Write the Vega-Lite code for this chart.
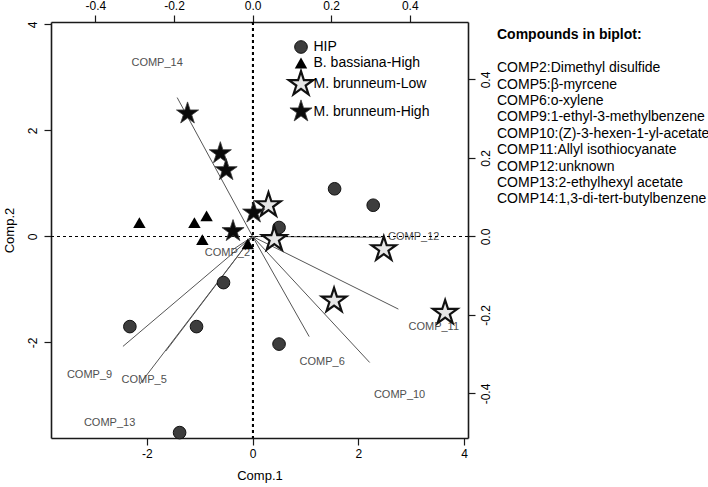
{
  "$schema": "https://vega.github.io/schema/vega-lite/v6.json",
  "width": 417,
  "height": 416,
  "autosize": {"type": "none"},
  "padding": {"left": 51, "top": 22, "right": 240, "bottom": 49},
  "background": "white",
  "config": {
    "font": "Liberation Sans",
    "view": {"stroke": null},
    "axis": {
      "grid": false,
      "domainColor": "#1a1a1a",
      "domainWidth": 1.6,
      "tickColor": "#1a1a1a",
      "tickWidth": 1.2,
      "tickSize": 7,
      "labelFontSize": 12,
      "labelColor": "#000000",
      "labelFont": "Liberation Sans",
      "titleFont": "Liberation Sans",
      "titleFontSize": 13,
      "titleFontWeight": "normal",
      "titleColor": "#000000"
    }
  },
  "datasets": {
    "scores": [
      {"group": "HIP", "comp1": 0.50, "comp2": 0.17},
      {"group": "HIP", "comp1": 1.55, "comp2": 0.90},
      {"group": "HIP", "comp1": 2.28, "comp2": 0.59},
      {"group": "HIP", "comp1": -0.55, "comp2": -0.87},
      {"group": "HIP", "comp1": -2.32, "comp2": -1.70},
      {"group": "HIP", "comp1": -1.06, "comp2": -1.70},
      {"group": "HIP", "comp1": -1.38, "comp2": -3.70},
      {"group": "HIP", "comp1": 0.50, "comp2": -2.03},
      {"group": "B. bassiana-High", "comp1": -2.14, "comp2": 0.26},
      {"group": "B. bassiana-High", "comp1": -1.10, "comp2": 0.26},
      {"group": "B. bassiana-High", "comp1": -0.87, "comp2": 0.39},
      {"group": "B. bassiana-High", "comp1": -0.95, "comp2": -0.06},
      {"group": "B. bassiana-High", "comp1": -0.09, "comp2": -0.14},
      {"group": "M. brunneum-Low", "comp1": 0.30, "comp2": 0.59},
      {"group": "M. brunneum-Low", "comp1": 0.41, "comp2": -0.05},
      {"group": "M. brunneum-Low", "comp1": 2.48, "comp2": -0.24},
      {"group": "M. brunneum-Low", "comp1": 1.54, "comp2": -1.21},
      {"group": "M. brunneum-Low", "comp1": 3.64, "comp2": -1.44},
      {"group": "M. brunneum-High", "comp1": -1.23, "comp2": 2.32},
      {"group": "M. brunneum-High", "comp1": -0.61, "comp2": 1.57},
      {"group": "M. brunneum-High", "comp1": -0.50, "comp2": 1.25},
      {"group": "M. brunneum-High", "comp1": 0.02, "comp2": 0.45},
      {"group": "M. brunneum-High", "comp1": -0.37, "comp2": 0.10}
    ],
    "loadings": [
      {"compound": "COMP_2", "desc": "COMP2:Dimethyl disulfide", "load1": -0.064, "load2": -0.043, "arrow1": -0.051, "arrow2": -0.034},
      {"compound": "COMP_5", "desc": "COMP5:β-myrcene", "load1": -0.276, "load2": -0.365, "arrow1": -0.221, "arrow2": -0.292},
      {"compound": "COMP_6", "desc": "COMP6:o-xylene", "load1": 0.177, "load2": -0.321, "arrow1": 0.144, "arrow2": -0.255},
      {"compound": "COMP_9", "desc": "COMP9:1-ethyl-3-methylbenzene", "load1": -0.415, "load2": -0.352, "arrow1": -0.330, "arrow2": -0.280},
      {"compound": "COMP_10", "desc": "COMP10:(Z)-3-hexen-1-yl-acetate", "load1": 0.374, "load2": -0.404, "arrow1": 0.298, "arrow2": -0.321},
      {"compound": "COMP_11", "desc": "COMP11:Allyl isothiocyanate", "load1": 0.461, "load2": -0.230, "arrow1": 0.371, "arrow2": -0.185},
      {"compound": "COMP_12", "desc": "COMP12:unknown", "load1": 0.410, "load2": -0.002, "arrow1": 0.328, "arrow2": -0.002},
      {"compound": "COMP_13", "desc": "COMP13:2-ethylhexyl acetate", "load1": -0.364, "load2": -0.474, "arrow1": -0.287, "arrow2": -0.376},
      {"compound": "COMP_14", "desc": "COMP14:1,3-di-tert-butylbenzene", "load1": -0.243, "load2": 0.442, "arrow1": -0.192, "arrow2": 0.354}
    ]
  },
  "layer": [
    {
      "data": {"name": "loadings"},
      "layer": [
        {
          "mark": {"type": "rule", "color": "#555555", "strokeWidth": 1},
          "encoding": {
            "x": {"field": "arrow1", "type": "quantitative"},
            "y": {"field": "arrow2", "type": "quantitative"},
            "x2": {"datum": 0},
            "y2": {"datum": 0}
          }
        },
        {
          "mark": {"type": "text", "fontSize": 11, "font": "Liberation Sans", "align": "center", "baseline": "middle"},
          "encoding": {
            "x": {
              "field": "load1", "type": "quantitative",
              "scale": {"domain": [-0.5131, 0.5482], "nice": false, "zero": false},
              "axis": {"orient": "top", "title": null, "values": [-0.4, -0.2, 0, 0.2, 0.4], "labelExpr": "replace(format(datum.value, '.1f'), '−', '-')", "labelPadding": 3, "labelFlush": false}
            },
            "y": {
              "field": "load2", "type": "quantitative",
              "scale": {"domain": [-0.5134, 0.5465], "nice": false, "zero": false},
              "axis": {"orient": "right", "title": null, "values": [-0.4, -0.2, 0, 0.2, 0.4], "labelExpr": "replace(format(datum.value, '.1f'), '−', '-')", "labelAngle": 270, "labelAlign": "center", "labelBaseline": "top", "labelPadding": 5, "labelFlush": false}
            },
            "text": {"field": "compound"},
            "color": {
              "field": "desc", "type": "nominal",
              "scale": {
                "domain": ["COMP2:Dimethyl disulfide", "COMP5:β-myrcene", "COMP6:o-xylene", "COMP9:1-ethyl-3-methylbenzene", "COMP10:(Z)-3-hexen-1-yl-acetate", "COMP11:Allyl isothiocyanate", "COMP12:unknown", "COMP13:2-ethylhexyl acetate", "COMP14:1,3-di-tert-butylbenzene"],
                "range": ["#505050", "#505050", "#505050", "#505050", "#505050", "#505050", "#505050", "#505050", "#505050"]
              },
              "legend": {
                "orient": "none", "legendX": 446, "legendY": 6,
                "title": "Compounds in biplot:", "titleFontSize": 14, "titleFontWeight": "bold", "titleColor": "#000000", "titleFont": "Liberation Sans", "titlePadding": 19.2, "titleLimit": 400,
                "labelFontSize": 14, "labelColor": "#000000", "labelFont": "Liberation Sans", "labelLimit": 400,
                "symbolSize": 0, "symbolOpacity": 0, "symbolStrokeWidth": 0, "labelOffset": -14, "rowPadding": 2.4
              }
            }
          }
        }
      ]
    },
    {
      "data": {"name": "scores"},
      "layer": [
        {
          "mark": {"type": "rule", "color": "#000000", "strokeWidth": 1.2, "strokeDash": [3, 3]},
          "encoding": {"x": {"datum": 0, "type": "quantitative"}}
        },
        {
          "mark": {"type": "rule", "color": "#000000", "strokeWidth": 1.2, "strokeDash": [3, 3]},
          "encoding": {"y": {"datum": 0, "type": "quantitative"}}
        },
        {
          "mark": {"type": "point", "filled": true, "opacity": 1},
          "encoding": {
            "x": {
              "field": "comp1", "type": "quantitative",
              "scale": {"domain": [-3.811, 4.072], "nice": false, "zero": false},
              "axis": {"orient": "bottom", "title": "Comp.1", "values": [-2, 0, 2, 4], "labelExpr": "replace(format(datum.value, 'd'), '−', '-')", "labelPadding": 3, "titlePadding": 10, "labelFlush": false}
            },
            "y": {
              "field": "comp2", "type": "quantitative",
              "scale": {"domain": [-3.802, 4.047], "nice": false, "zero": false},
              "axis": {"orient": "left", "title": "Comp.2", "values": [-2, 0, 2, 4], "labelExpr": "replace(format(datum.value, 'd'), '−', '-')", "labelAngle": 270, "labelAlign": "center", "labelBaseline": "bottom", "labelPadding": 5, "titlePadding": 10, "labelFlush": false}
            },
            "shape": {
              "field": "group", "type": "nominal",
              "scale": {"domain": ["HIP", "B. bassiana-High", "M. brunneum-Low", "M. brunneum-High"], "range": ["circle", "triangle-up", "M0,-1L0.2245,-0.309L0.951,-0.309L0.363,0.118L0.588,0.809L0,0.382L-0.588,0.809L-0.363,0.118L-0.951,-0.309L-0.2245,-0.309Z", "M0,-1L0.2245,-0.309L0.951,-0.309L0.363,0.118L0.588,0.809L0,0.382L-0.588,0.809L-0.363,0.118L-0.951,-0.309L-0.2245,-0.309Z"]},
              "legend": {"orient": "none", "legendX": 236, "legendY": 18, "title": null, "labelFontSize": 14, "labelColor": "#000000", "labelFont": "Liberation Sans", "labelLimit": 300, "labelOffset": -1.5, "rowPadding": -8}
            },
            "fill": {
              "field": "group", "type": "nominal",
              "scale": {"domain": ["HIP", "B. bassiana-High", "M. brunneum-Low", "M. brunneum-High"], "range": ["#3d3d3d", "#000000", "#e6e6e6", "#0a0a0a"]},
              "legend": {"orient": "none", "legendX": 236, "legendY": 18, "title": null, "labelFontSize": 14, "labelColor": "#000000", "labelFont": "Liberation Sans", "labelLimit": 300, "labelOffset": -1.5, "rowPadding": -8}
            },
            "stroke": {
              "field": "group", "type": "nominal",
              "scale": {"domain": ["HIP", "B. bassiana-High", "M. brunneum-Low", "M. brunneum-High"], "range": ["#111111", "#000000", "#111111", "#3a3a3a"]},
              "legend": {"orient": "none", "legendX": 236, "legendY": 18, "title": null, "labelFontSize": 14, "labelColor": "#000000", "labelFont": "Liberation Sans", "labelLimit": 300, "labelOffset": -1.5, "rowPadding": -8}
            },
            "strokeWidth": {
              "field": "group", "type": "nominal",
              "scale": {"type": "ordinal", "domain": ["HIP", "B. bassiana-High", "M. brunneum-Low", "M. brunneum-High"], "range": [1, 0, 2.2, 0.8]},
              "legend": {"orient": "none", "legendX": 236, "legendY": 18, "title": null, "labelFontSize": 14, "labelColor": "#000000", "labelFont": "Liberation Sans", "labelLimit": 300, "labelOffset": -1.5, "rowPadding": -8}
            },
            "size": {
              "field": "group", "type": "nominal",
              "scale": {"type": "ordinal", "domain": ["HIP", "B. bassiana-High", "M. brunneum-Low", "M. brunneum-High"], "range": [160, 155, 660, 540]},
              "legend": {"orient": "none", "legendX": 236, "legendY": 18, "title": null, "labelFontSize": 14, "labelColor": "#000000", "labelFont": "Liberation Sans", "labelLimit": 300, "labelOffset": -1.5, "rowPadding": -8}
            }
          }
        }
      ]
    }
  ],
  "resolve": {"scale": {"x": "independent", "y": "independent"}}
}
